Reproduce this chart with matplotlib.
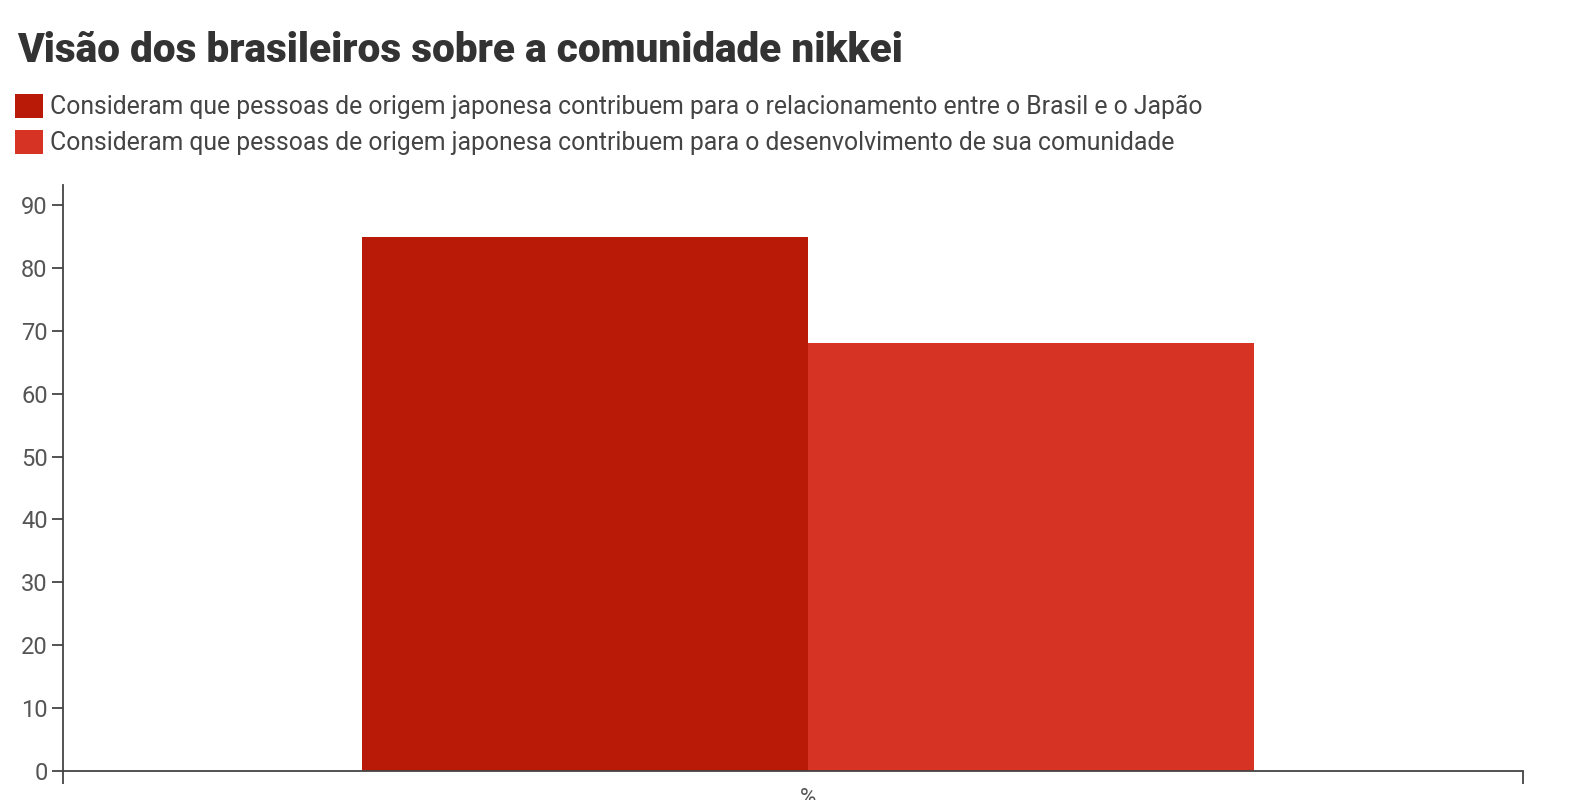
import matplotlib.pyplot as plt
from matplotlib.patches import Patch

categories = ["%"]
series_names = [
    "Consideram que pessoas de origem japonesa contribuem para o relacionamento entre o Brasil e o Japão",
    "Consideram que pessoas de origem japonesa contribuem para o desenvolvimento de sua comunidade",
]
values = [85, 68]
colors = ["#b91a07", "#d63324"]
yticks = [0, 10, 20, 30, 40, 50, 60, 70, 80, 90]

plt.rcParams['font.family'] = ['Roboto', 'DejaVu Sans']

fig = plt.figure(figsize=(15.71, 8), dpi=100)
ax = fig.add_axes([63 / 1571, 1 - 771 / 800, (1523 - 63) / 1571, (771 - 185) / 800])

w = 1.0
for i, (v, c) in enumerate(zip(values, colors)):
    ax.bar((i - 0.5) * w, v, width=w, color=c, align='center')

ax.set_xlim((63 - 808) / 446, (1523 - 808) / 446)
ax.set_ylim(0, 93.2)
ax.set_xticks([0])
ax.set_xticklabels(categories)
ax.set_xticks([ax.get_xlim()[0], ax.get_xlim()[1]], minor=True)
ax.set_yticks(yticks)

for s in ['top', 'right']:
    ax.spines[s].set_visible(False)
for s in ['left', 'bottom']:
    ax.spines[s].set_color('#444444')
    ax.spines[s].set_linewidth(1.3)

ax.tick_params(axis='y', length=8, width=1.3, color='#444444', labelsize=17,
               labelcolor='#555555', pad=3)
ax.tick_params(axis='x', which='major', length=0, labelsize=16, labelcolor='#555555', pad=12)
ax.tick_params(axis='x', which='minor', length=9, width=1.3, color='#444444')

fig.text(17 / 1571, 1 - 50 / 800, "Visão dos brasileiros sobre a comunidade nikkei",
         fontsize=29.2, fontweight='black', color='#333333', va='center', ha='left')

handles = [Patch(facecolor=c, edgecolor='none') for c in colors]
leg = fig.legend(handles, series_names, loc='upper left',
                 bbox_to_anchor=(15 / 1571, 1 - 94 / 800), frameon=False,
                 fontsize=17.8, handlelength=1.12, handleheight=1.12,
                 handletextpad=0.28, labelspacing=0.42, borderaxespad=0,
                 borderpad=0)
for t in leg.get_texts():
    t.set_color('#444444')

fig.savefig("out.png", dpi=100, facecolor='white')
